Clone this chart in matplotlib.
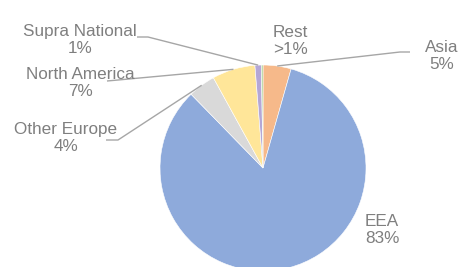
import numpy as np
import matplotlib.pyplot as plt

# shares, clockwise from 12 o'clock
regions = ["Asia", "EEA", "Other Europe", "North America", "Supra National", "Rest"]
shares = [4.4, 83.3, 4.3, 6.75, 1.0, 0.25]
pct_labels = ["5%", "83%", "4%", "7%", "1%", ">1%"]
colors = ["#F6B98A", "#8EAADB", "#D9D9D9", "#FFE699", "#B4A7D6", "#A9D18E"]

W, H = 461, 267
CX, CY, R = 263, 168, 103  # pie centre / radius in pixels


def px(x, y):
    # pixel position (from top-left) -> data coords where pie radius == 1
    return (x - CX) / R, (CY - y) / R


fig = plt.figure(figsize=(W / 100, H / 100), dpi=100)
ax = fig.add_axes([0, 0, 1, 1])
wedges, _ = ax.pie(shares, colors=colors, startangle=90, counterclock=False,
                   radius=1.0, wedgeprops=dict(edgecolor="white", linewidth=0.4))
ax.set_xlim(px(0, 0)[0], px(W, 0)[0])
ax.set_ylim(px(0, H)[1], px(0, 0)[1])
ax.set_aspect("equal")
ax.axis("off")

txt_color = "#7F7F7F"
line_color = "#A6A6A6"

# label block centres and leader line start/elbow (pixels), None = no leader
layout = {
    "Asia": ((442, 56), [(410, 52), (400, 52)]),
    "EEA": ((382, 230), None),
    "Other Europe": ((66, 138), [(106, 140), (118, 140)]),
    "North America": ((80, 83), [(107, 81), (118, 80)]),
    "Supra National": ((80, 40), [(137, 37), (148, 37)]),
    "Rest": ((290, 41), None),
}

for w, name, pct in zip(wedges, regions, pct_labels):
    (lx, ly), lead = layout[name]
    tx, ty = px(lx, ly)
    ax.text(tx, ty, f"{name}\n{pct}", ha="center", va="center", fontsize=12.3,
            color=txt_color, family="Liberation Sans", linespacing=1.15)
    if lead is not None:
        mid = np.deg2rad((w.theta1 + w.theta2) / 2)
        ex, ey = np.cos(mid) * 1.0, np.sin(mid) * 1.0
        pts = [px(*p) for p in lead] + [(ex, ey)]
        ax.plot([p[0] for p in pts], [p[1] for p in pts], color=line_color,
                lw=1.0, solid_capstyle="butt")

fig.savefig("out.png", dpi=100)
